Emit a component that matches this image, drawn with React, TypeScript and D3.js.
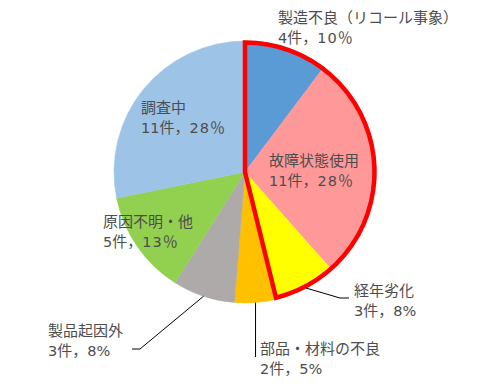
import React from "react";
import * as d3 from "d3";

const categories = [
  "製造不良（リコール事象）",
  "故障状態使用",
  "経年劣化",
  "部品・材料の不良",
  "製品起因外",
  "原因不明・他",
  "調査中",
];
const counts = [4, 11, 3, 2, 3, 5, 11];
const percents = [10, 28, 8, 5, 8, 13, 28];
const percentSigns = ["％", "％", "%", "%", "%", "％", "％"];
const colors = ["#5B9BD5", "#FF9999", "#FFFF00", "#FFC000", "#AEAAAA", "#92D050", "#9DC3E6"];
const highlightedCount = 3; // first three slices outlined in red

// label layout (positions of text boxes)
const labelPos: [number, number][] = [
  [278, 23],
  [269, 166],
  [354, 296],
  [260, 354],
  [48, 336],
  [103, 227],
  [141, 113],
];

const W = 490;
const H = 388;
const cx = 245;
const cy = 172;
const R = 131;
const latin = "'DejaVu Sans', sans-serif";

export default function App() {
  const pie = d3
    .pie<number>()
    .sort(null)
    .startAngle(0)
    .endAngle(2 * Math.PI)
    .value((d) => d);
  const arcs = pie(counts);
  const arc = d3.arc<d3.PieArcDatum<number>>().innerRadius(0).outerRadius(R);
  const redEnd = arcs[highlightedCount - 1].endAngle;
  const redArc = d3.arc()({
    innerRadius: 0,
    outerRadius: R - 1.5,
    startAngle: 0,
    endAngle: redEnd,
  } as any) as string;

  const edge = (a: number, r: number): [number, number] => [
    cx + r * Math.sin(a),
    cy - r * Math.cos(a),
  ];

  const mid = (i: number) => (arcs[i].startAngle + arcs[i].endAngle) / 2;
  const p2 = edge(mid(2), R);
  const p3 = edge(mid(3), R);
  const p4 = edge(mid(4), R);
  const leaderLines = [
    `M${p2[0]},${p2[1]}L${340},${298}L${349},${298}`,
    `M${p3[0]},${p3[1]}L${p3[0]},${357}`,
    `M${p4[0]},${p4[1]}L${140},${349}L${132},${349}`,
  ];

  return (
    <svg width={W} height={H} style={{ position: "absolute", left: 0, top: 0 }}>
      <rect width={W} height={H} fill="#fff" />
      <g transform={`translate(${cx},${cy})`}>
        {arcs.map((a, i) => (
          <path key={i} d={arc(a) as string} fill={colors[i]} stroke={colors[i]} strokeWidth={0.5} />
        ))}
        <path d={redArc} fill="none" stroke="#FF0000" strokeWidth={4.5} strokeLinejoin="miter" />
      </g>
      {leaderLines.map((d, i) => (
        <path key={i} d={d} fill="none" stroke="#000" strokeWidth={1} />
      ))}
      {categories.map((c, i) => (
        <text
          key={i}
          x={labelPos[i][0]}
          y={labelPos[i][1]}
          fontFamily="'Noto Sans CJK JP', sans-serif"
          fontSize={15}
          fill="#4d4d4d"
        >
          <tspan x={labelPos[i][0]}>{c}</tspan>
          <tspan x={labelPos[i][0]} dy={20}>
            <tspan fontFamily={latin} fontSize={14.5}>{`${counts[i]}`}</tspan>
            {"件，"}
            <tspan fontFamily={latin} fontSize={14.5} letterSpacing={percentSigns[i] === "％" ? 1 : 0}>{`${percents[i]}`}</tspan>
            {percentSigns[i] === "％" ? (
              "％"
            ) : (
              <tspan fontFamily={latin} fontSize={14.5}>%</tspan>
            )}
          </tspan>
        </text>
      ))}
    </svg>
  );
}
